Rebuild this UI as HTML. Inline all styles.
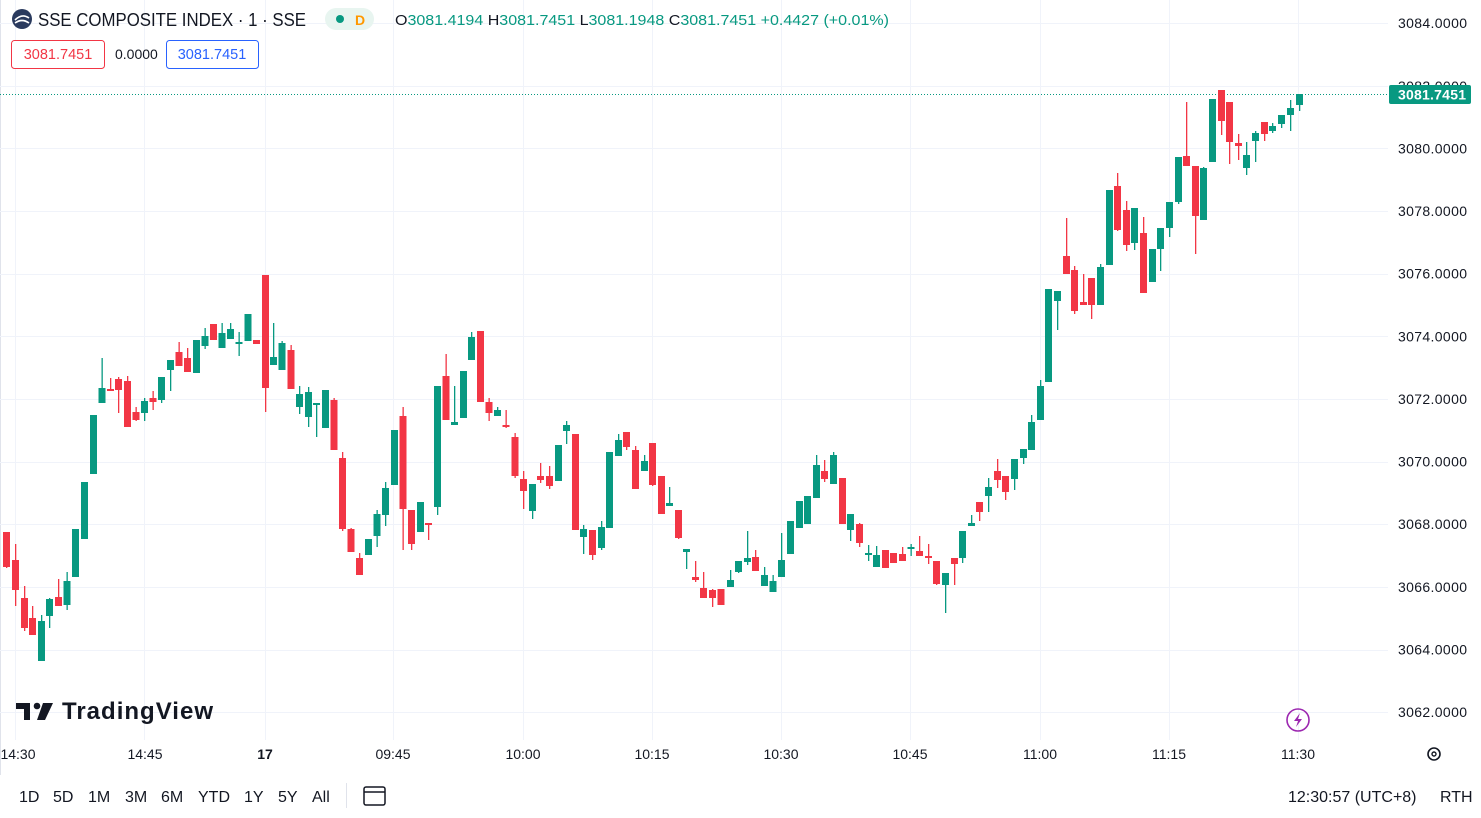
<!DOCTYPE html>
<html><head><meta charset="utf-8"><style>
html,body{margin:0;padding:0;background:#fff;width:1481px;height:818px;overflow:hidden;font-family:"Liberation Sans",sans-serif;}
svg{position:absolute;left:0;top:0}
</style></head><body>
<svg id="s" width="1481" height="818" xmlns="http://www.w3.org/2000/svg" font-family="Liberation Sans, sans-serif">
<rect x="0" y="0" width="1481" height="818" fill="#fff"/>
<line x1="0.5" y1="0" x2="0.5" y2="775" stroke="#e0e3eb"/>
<g id="grid" stroke="#f0f3fa" stroke-width="1"></g>
<line x1="0" y1="94.5" x2="1388" y2="94.5" stroke="#089981" stroke-dasharray="1,2"/>
<g id="c"></g>
<g id="py" font-size="14" fill="#131722"></g>
<rect x="1389" y="85" width="82" height="19" rx="2" fill="#089981"/>
<text x="1398" y="99.5" font-size="14" font-weight="bold" fill="#fff" textLength="68">3081.7451</text>
<g font-size="14" fill="#131722" text-anchor="middle">
<text x="18" y="759">14:30</text><text x="145" y="759">14:45</text><text x="265" y="759" font-weight="bold">17</text>
<text x="393" y="759">09:45</text><text x="523" y="759">10:00</text><text x="652" y="759">10:15</text>
<text x="781" y="759">10:30</text><text x="910" y="759">10:45</text><text x="1040" y="759">11:00</text>
<text x="1169" y="759">11:15</text><text x="1298" y="759">11:30</text>
</g>
<circle cx="1434" cy="754" r="6" fill="none" stroke="#131722" stroke-width="1.6"/>
<circle cx="1434" cy="754" r="2" fill="none" stroke="#131722" stroke-width="1.4"/>
<circle cx="1298" cy="720" r="11" fill="none" stroke="#9c27b0" stroke-width="1.6"/>
<path d="M1300 713 L1294 721 L1298 721 L1296 727 L1302 719 L1298 719 Z" fill="#9c27b0"/>
<path d="M16 703 h14 v17 h-6 v-11 h-8 z" fill="#131722"/>
<circle cx="37" cy="706" r="3.3" fill="#131722"/>
<path d="M43 703 h10 l-8 17 h-8 z" fill="#131722"/>
<text x="62" y="719" font-size="24" font-weight="bold" fill="#131722" textLength="151">TradingView</text>
<g font-size="16" fill="#131722">
<text x="19" y="802">1D</text><text x="53" y="802">5D</text><text x="88" y="802">1M</text><text x="125" y="802">3M</text>
<text x="161" y="802">6M</text><text x="198" y="802">YTD</text><text x="244" y="802">1Y</text><text x="278" y="802">5Y</text><text x="312" y="802">All</text>
<text x="1288" y="802">12:30:57 (UTC+8)</text><text x="1440" y="802">RTH</text>
</g>
<line x1="346.5" y1="783" x2="346.5" y2="808" stroke="#e0e3eb"/>
<rect x="364" y="787" width="21" height="18" rx="2" fill="none" stroke="#131722" stroke-width="1.5"/>
<line x1="364" y1="792" x2="385" y2="792" stroke="#131722" stroke-width="1.5"/>
<circle cx="22" cy="19" r="10" fill="#2a3a5e"/>
<path d="M15 20 q7 -7 14 -2 M15 23 q7 -5 14 0" stroke="#fff" stroke-width="1.6" fill="none"/>
<text x="38" y="26" font-size="18" fill="#131722" textLength="268" lengthAdjust="spacingAndGlyphs">SSE COMPOSITE INDEX · 1 · SSE</text>
<rect x="325" y="8" width="49" height="22" rx="11" fill="#e8f5f0"/>
<circle cx="340" cy="19" r="4" fill="#089981"/>
<text x="355" y="25" font-size="14" font-weight="bold" fill="#ff9800">D</text>
<text x="395" y="25" font-size="14.5" fill="#131722" textLength="494" lengthAdjust="spacingAndGlyphs">O<tspan fill="#089981">3081.4194</tspan> H<tspan fill="#089981">3081.7451</tspan> L<tspan fill="#089981">3081.1948</tspan> C<tspan fill="#089981">3081.7451</tspan><tspan fill="#089981"> +0.4427 (+0.01%)</tspan></text>
<rect x="11.5" y="40.5" width="93" height="28" rx="3" fill="#fff" stroke="#f23645"/>
<text x="58" y="59" font-size="14.5" fill="#f23645" text-anchor="middle">3081.7451</text>
<text x="115" y="59" font-size="14" fill="#131722">0.0000</text>
<rect x="166.5" y="40.5" width="92" height="28" rx="3" fill="#fff" stroke="#2962ff"/>
<text x="212" y="59" font-size="14.5" fill="#2962ff" text-anchor="middle">3081.7451</text>
</svg>
<script>
var NS="http://www.w3.org/2000/svg";
function el(n,a,p){var e=document.createElementNS(NS,n);for(var k in a)e.setAttribute(k,a[k]);p.appendChild(e);return e;}
var g=document.getElementById('grid'),py=document.getElementById('py');
for(var i=0;i<12;i++){var v=3084-2*i,y=23+i*62.65;
 el('line',{x1:0,x2:1388,y1:Math.round(y)+0.5,y2:Math.round(y)+0.5},g);
 if(v!==3082){var t=el('text',{x:1398,y:y+5,textLength:69},py);t.textContent=v+".0000";}}
var t2=el('text',{x:1398,y:91,textLength:69},py);t2.textContent="3082.0000";
[15,144,265,393,523,652,781,910,1040,1169,1298].forEach(function(x){el('line',{x1:x+0.5,x2:x+0.5,y1:0,y2:740},g);});
var C=[
[6.5,532,567,532,568],[15.5,560,590,544,606],[24.5,598,628,586,631],[32.5,618,635,606,635],[41.5,661,621,615,661],
[49.5,616,599,598,628],[58.5,597,606,579,606],[67,605,581,572,610],[75.5,577,529,529,577],[84.5,539,482,482,539],
[93.5,474,415,415,474],[102,403,388,358,403],[110.5,389,391,378,391],[118.5,379,390,377,413],[127.5,381,427,376,427],
[136,412,420,407,421],[144.5,413,401,398,421],[153,398,402,391,410],[161.5,400,377,377,403],[170.5,370,360,360,391],
[179,352,366,342,366],[187.5,358,372,348,372],[196.5,373,340,340,373],[205,346,336,328,349],[213.5,324,340,324,340],
[222,348,333,323,348],[230.5,339,329,323,339],[239,344,342,332,356],[248,341,314,314,341],[256.5,340,344,340,344],
[265.5,275,388,275,412],[273.5,365,357,323,365],[282,370,343,341,370],[291,350,389,345,389],[299.5,407,394,386,414],
[308.5,417,392,387,427],[316.5,404,403,403,437],[325.5,428,390,390,428],[334,400,450,398,450],[342.5,458,529,452,531],
[351,529,552,528,552],[359.5,558,575,553,575],[368.5,555,539,539,555],[377,536,514,510,547],[385.5,515,488,482,526],
[394.5,485,430,430,485],[403,416,509,407,550],[411.5,510,544,510,550],[420.5,532,502,502,532],[428.5,523,524,523,540],
[437.5,507,386,386,515],[446,376,420,354,420],[454.5,425,422,386,425],[463.5,418,371,371,418],[471.5,360,337,332,360],
[480.5,331,402,331,402],[489,402,413,398,421],[497.5,416,410,407,416],[506,425,427,410,428],[515,437,476,433,478],
[523.5,479,491,471,509],[532.5,511,484,484,519],[540.5,476,480,463,483],[549.5,476,486,466,489],[558.5,481,445,445,481],
[566.5,431,425,421,444],[575.5,434,530,434,530],[583.5,537,529,525,554],[592.5,530,555,530,560],[601.5,548,527,521,550],
[609.5,528,452,452,528],[618.5,456,440,434,456],[626.5,432,447,432,450],[635.5,450,489,446,489],[644.5,471,461,455,471],
[652.5,443,485,443,486],[661.5,476,514,476,514],[669.5,506,503,487,506],[678.5,510,538,510,539],[686.5,552,549,549,569],
[695.5,577,580,561,582],[703.5,588,598,572,598],[712.5,590,598,589,607],[721,589,605,589,605],[730.5,587,580,570,587],
[738.5,572,561,561,573],[747.5,562,558,531,565],[755.5,557,571,550,571],[764.5,586,575,567,586],[773,592,581,575,592],
[781.5,577,560,533,577],[790.5,554,521,521,554],[799.5,528,501,501,528],[807.5,524,496,496,524],[816.5,498,465,455,498],
[824.5,471,479,460,482],[833.5,484,455,452,484],[842.5,478,524,478,524],[850.5,530,514,514,541],[859.5,524,543,523,547],
[868.5,554,553,545,561],[876.5,567,555,546,567],[885.5,550,568,550,568],[893.5,553,563,553,563],[902.5,554,561,547,561],
[911,549,547,544,556],[919.5,551,556,536,556],[928.5,556,557,544,564],[936.5,561,584,561,585],[945.5,585,573,573,613],
[954.5,558,564,558,585],[962.5,558,531,531,563],[971.5,526,523,515,526],[979.5,502,512,502,521],[988.5,496,487,478,512],
[997.5,471,480,459,488],[1005.5,476,492,476,500],[1014.5,479,459,459,490],[1023.5,458,449,449,464],[1031.5,450,422,415,450],
[1040.5,420,386,380,420],[1048.5,382,289,289,382],[1057.5,301,291,291,330],[1066.5,256,274,218,274],[1074.5,270,311,266,314],
[1083.5,302,305,274,305],[1091.5,278,305,278,319],[1100.5,305,267,264,305],[1109.5,265,190,190,265],[1117.5,186,230,173,231],
[1126.5,210,245,201,251],[1134.5,243,208,208,250],[1143.5,233,293,217,293],[1152.5,282,249,249,282],[1160.5,249,228,228,271],
[1169.5,228,202,202,237],[1178.5,202,157,157,204],[1186.5,156,166,102,166],[1195.5,166,216,166,254],[1203.5,220,168,167,220],
[1212.5,162,99,99,162],[1221.5,90,121,90,135],[1229.5,102,142,102,164],[1238.5,143,146,134,160],[1246.5,168,155,142,175],
[1255.5,141,133,131,162],[1264.5,122,134,122,141],[1272.5,131,126,123,133],[1281.5,124,115,115,128],[1290.5,115,108,100,131],
[1299.5,105,94,94,111]];
var cg=document.getElementById('c');
C.forEach(function(c){var col=(c[2]>c[1])?'#f23645':'#089981';
 var top=Math.min(c[1],c[2]),h=Math.max(Math.abs(c[2]-c[1]),2);
 el('rect',{x:c[0]-0.5,y:c[3],width:1.3,height:c[4]-c[3],fill:col},cg);
 el('rect',{x:c[0]-3.5,y:top,width:7,height:h,fill:col},cg);});
</script>
</body></html>
